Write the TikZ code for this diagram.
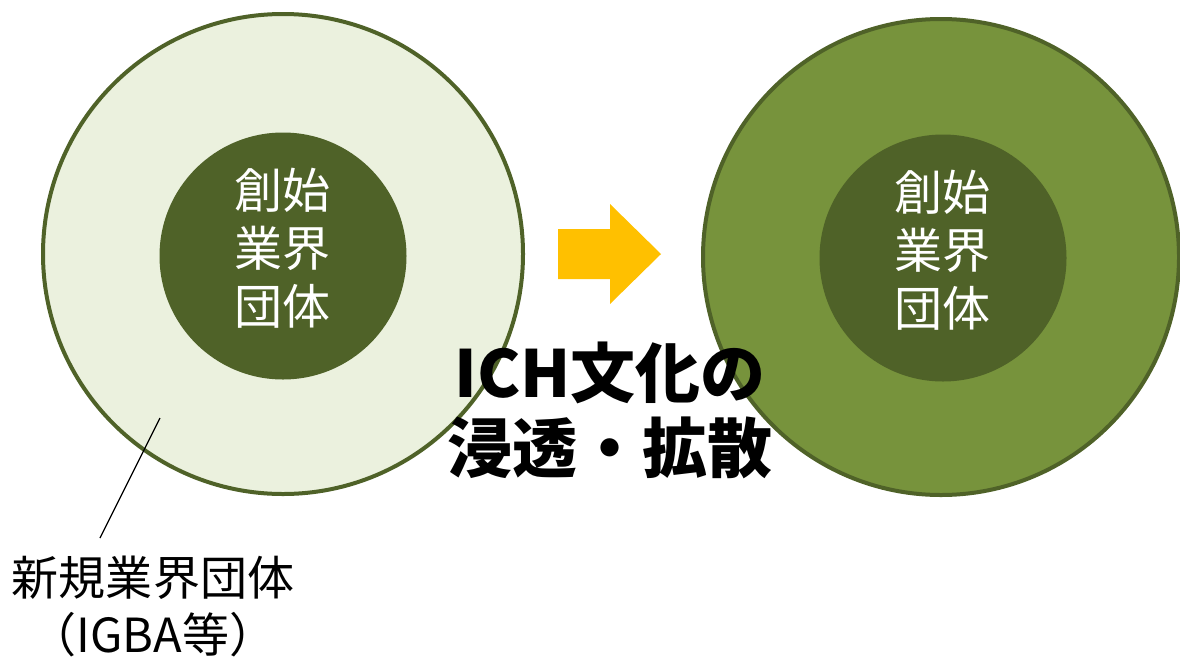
\documentclass[tikz,border=0pt]{standalone}
\usepackage{fontspec}
\newfontfamily\cjk{Noto Sans CJK JP}
\definecolor{outerlight}{HTML}{EBF1DE}
\definecolor{darkgreen}{HTML}{4F6228}
\definecolor{midgreen}{HTML}{77933C}
\definecolor{arrowyellow}{HTML}{FFC000}
\tikzset{
  outercirc/.style={circle, draw=darkgreen, line width=4pt, inner sep=0pt},
  innercirc/.style={circle, fill=darkgreen, inner sep=0pt, minimum size=247pt},
  innertext/.style={text=white, align=center, font=\cjk\fontsize{48}{58}\selectfont},
  bigtext/.style={align=center, font=\cjk\bfseries\fontsize{65}{75}\selectfont},
  labeltext/.style={align=center, font=\cjk\fontsize{47}{57}\selectfont},
}
\begin{document}
\begin{tikzpicture}[x=1pt,y=-1pt]
\useasboundingbox (0,0) rectangle (1180,659);
\node[outercirc, fill=outerlight, minimum size=480pt] (L) at (283,254) {};
\node[outercirc, fill=midgreen, minimum size=476pt] (R) at (941,257) {};
\node[innercirc] (Li) at (283,256) {};
\node[innercirc] (Ri) at (943,258) {};
\node[innertext] (Lt) at (282,248) {創始\\業界\\団体};
\node[innertext] (Rt) at (942,250) {創始\\業界\\団体};
\fill[arrowyellow] (558,229) -- (610,229) -- (610,204) -- (661,254) -- (610,304) -- (610,279) -- (558,279) -- cycle;
\node[bigtext] (T) at (610,410) {ICH文化の\\浸透・拡散};
\node[labeltext] (lab) at (153,606) {新規業界団体\\（IGBA等）};
\coordinate (lp) at (160,418);
\coordinate (lq) at (100,538);
\draw[line width=1.3pt] (lp) -- (lq);
\end{tikzpicture}
\end{document}
